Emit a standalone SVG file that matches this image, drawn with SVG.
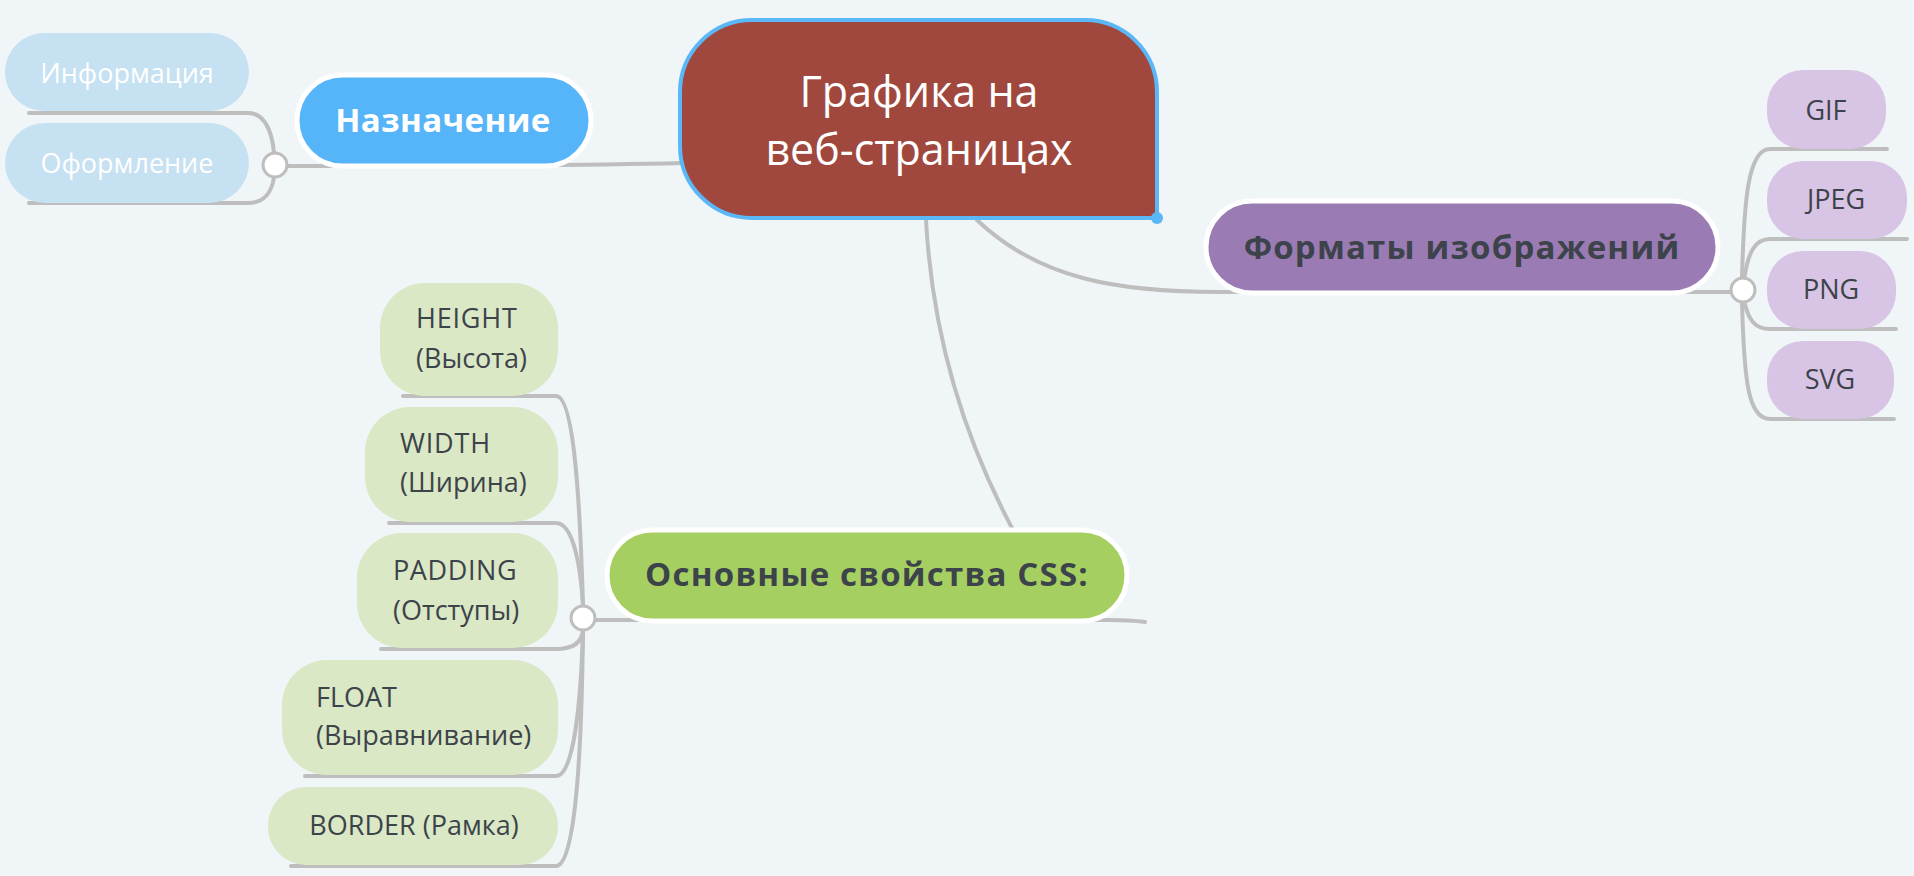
<svg xmlns="http://www.w3.org/2000/svg" width="1914" height="876" viewBox="0 0 1914 876">
<style>
.bg{fill:#F0F5F8}
.ln{fill:none;stroke:#BEBEBE;stroke-width:4;stroke-linecap:round}
.knob{fill:#FFFFFF;stroke:#BEBEBE;stroke-width:3}
.t{font-family:"Open Sans","Noto Sans","DejaVu Sans",sans-serif}
.main{stroke:#FFFFFF;stroke-width:5}
.bt{font-weight:700;font-size:33px;text-anchor:middle}
.wide{letter-spacing:1.2px}
.lt{font-size:27px;fill:#3D434A}
.mid{text-anchor:middle}
.dark{fill:#3D434A}
.white{fill:#FFFFFF}
.css-leaf{fill:#DAE8C5}
.fmt-leaf{fill:#D8C4E4}
.nz-leaf{fill:#C6E1F2}
</style>
<rect class="bg" x="0" y="0" width="1914" height="876"/>
<g id="connectors">
  <path class="ln" d="M683,163 C600,165 420,166 287,166"/>
  <path class="ln" d="M29,113 H248 C264,113 272,130 274,153"/>
  <path class="ln" d="M29,203 H248 C264,203 272,192 274,177"/>
  <path class="ln" d="M977,220 C1040,280 1120,292 1220,292 H1730"/>
  <path class="ln" d="M1742,278 C1744,200 1748,149 1770,149 H1887"/>
  <path class="ln" d="M1744,280 C1748,252 1755,239 1770,239 H1907"/>
  <path class="ln" d="M1744,300 C1748,320 1755,329 1770,329 H1896"/>
  <path class="ln" d="M1742,302 C1744,380 1748,419 1770,419 H1894"/>
  <path class="ln" d="M926,220 C932,330 960,430 1012,528"/>
  <path class="ln" d="M595,620 H1110 Q1130,620 1145,622"/>
  <path class="ln" d="M403,396 H556 C574,396 580,500 583,606"/>
  <path class="ln" d="M389,523 H556 C574,523 581,570 583,606"/>
  <path class="ln" d="M381,649 H556 C574,649 582,642 583,630"/>
  <path class="ln" d="M305,776 H556 C574,776 581,700 583,630"/>
  <path class="ln" d="M291,866 H556 C578,866 582,720 583,630"/>
  <circle class="knob" cx="275" cy="165" r="12"/>
  <circle class="knob" cx="1743" cy="290" r="12"/>
  <circle class="knob" cx="583" cy="618" r="12"/>
</g>
<g id="root">
  <path d="M752,20 H1085 A72,72 0 0 1 1157,92 V218 H752 A72,72 0 0 1 680,146 V92 A72,72 0 0 1 752,20 Z" fill="#A0483D" stroke="#5BB8F8" stroke-width="4"/>
  <circle cx="1157" cy="218" r="6" fill="#5BB8F8"/>
  <text class="t white mid" x="919" y="107" font-size="43">Графика на</text>
  <text class="t white mid" x="919" y="165" font-size="43">веб-страницах</text>
</g>
<g id="naznachenie">
  <rect class="main" x="297" y="75" width="294" height="91" rx="45.5" fill="#56B4F9"/>
  <text class="t bt white" x="443" y="132" letter-spacing="0.4">Назначение</text>
</g>
<g id="informaciya">
  <rect class="nz-leaf" x="5" y="33" width="244" height="78" rx="39"/>
  <text class="t white mid" x="127" y="83" font-size="27">Информация</text>
</g>
<g id="oformlenie">
  <rect class="nz-leaf" x="5" y="123" width="244" height="80" rx="40"/>
  <text class="t white mid" x="127" y="173" font-size="27">Оформление</text>
</g>
<g id="formaty">
  <rect class="main" x="1206" y="201" width="512" height="92" rx="46" fill="#9A7BB3"/>
  <text class="t bt dark wide" x="1462" y="259">Форматы изображений</text>
</g>
<g id="gif">
  <rect class="fmt-leaf" x="1767" y="70" width="119" height="79" rx="36"/>
  <text class="t lt mid" x="1826" y="120">GIF</text>
</g>
<g id="jpeg">
  <rect class="fmt-leaf" x="1767" y="161" width="140" height="78" rx="36"/>
  <text class="t lt mid" x="1836" y="209">JPEG</text>
</g>
<g id="png">
  <rect class="fmt-leaf" x="1767" y="251" width="129" height="78" rx="36"/>
  <text class="t lt mid" x="1831" y="299">PNG</text>
</g>
<g id="svg">
  <rect class="fmt-leaf" x="1767" y="341" width="127" height="78" rx="36"/>
  <text class="t lt mid" x="1830" y="389">SVG</text>
</g>
<g id="css">
  <rect class="main" x="607" y="530" width="520" height="91" rx="45.5" fill="#A5CF61"/>
  <text class="t bt dark wide" x="867" y="586">Основные свойства CSS:</text>
</g>
<g id="height">
  <rect class="css-leaf" x="380" y="283" width="178" height="113" rx="45"/>
  <text class="t lt" x="416" y="328" letter-spacing="0.8">HEIGHT</text>
  <text class="t lt" x="416" y="368">(Высота)</text>
</g>
<g id="width">
  <rect class="css-leaf" x="365" y="407" width="193" height="115" rx="45"/>
  <text class="t lt" x="400" y="453" letter-spacing="0.8">WIDTH</text>
  <text class="t lt" x="400" y="492">(Ширина)</text>
</g>
<g id="padding">
  <rect class="css-leaf" x="357" y="533" width="201" height="115" rx="45"/>
  <text class="t lt" x="393" y="580" letter-spacing="0.6">PADDING</text>
  <text class="t lt" x="393" y="620">(Отступы)</text>
</g>
<g id="float">
  <rect class="css-leaf" x="282" y="660" width="276" height="115" rx="45"/>
  <text class="t lt" x="316" y="707">FLOAT</text>
  <text class="t lt" x="316" y="745">(Выравнивание)</text>
</g>
<g id="border">
  <rect class="css-leaf" x="268" y="787" width="290" height="78" rx="38"/>
  <text class="t lt mid" x="414" y="835">BORDER (Рамка)</text>
</g>
</svg>
